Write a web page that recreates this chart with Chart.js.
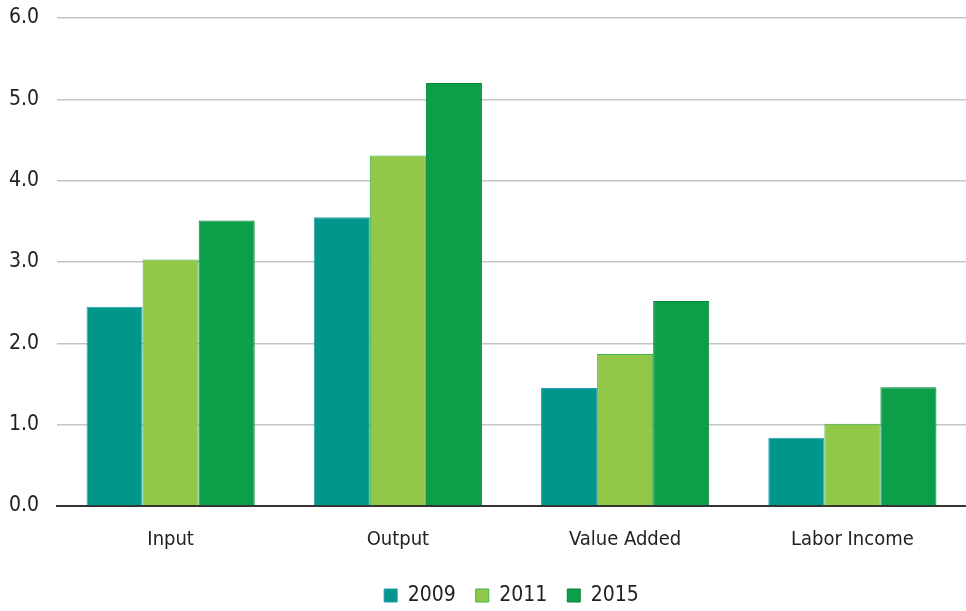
<!DOCTYPE html>
<html>
<head>
<meta charset="utf-8">
<script src="https://cdn.jsdelivr.net/npm/chart.js@4/dist/chart.umd.min.js"></script>
<style>
  html, body { margin: 0; padding: 0; background: #fff; }
  #wrap { width: 966px; height: 611px; position: relative; }
</style>
</head>
<body>
<div id="wrap"><canvas id="chart"></canvas></div>
<script>
// categories and values
const categories = ['Input', 'Output', 'Value Added', 'Labor Income'];
const values2009 = [2.45, 3.55, 1.45, 0.84];
const values2011 = [3.03, 4.31, 1.87, 1.01];
const values2015 = [3.51, 5.20, 2.52, 1.46];

const fontFamily = "'DejaVu Sans Condensed', sans-serif";

function series(label, data, fill, border) {
    return {
        label: label,
        data: data,
        backgroundColor: fill,
        borderColor: border,
        borderWidth: 1,
        borderSkipped: 'bottom'
    };
}

const ctx = document.getElementById('chart').getContext('2d');
new Chart(ctx, {
    type: 'bar',
    data: {
        labels: categories,
        datasets: [
            series('2009', values2009, '#00968A', '#2A9AB0'),
            series('2011', values2011, '#92C848', '#3DB54A'),
            series('2015', values2015, '#0C9E48', '#07843A')
        ]
    },
    options: {
        responsive: true,
        maintainAspectRatio: false,
        animation: false,
        layout: { padding: { top: 18, right: 0, left: 0, bottom: -5 } },
        datasets: { bar: { categoryPercentage: 0.74, barPercentage: 1.0 } },
        plugins: {
            tooltip: { enabled: false },
            legend: {
                position: 'bottom',
                fullSize: false,
                labels: {
                    boxWidth: 13,
                    boxHeight: 13,
                    padding: 20,
                    color: '#222',
                    font: { family: fontFamily, size: 21 }
                }
            }
        },
        scales: {
            x: {
                grid: { display: false, drawTicks: false },
                border: { color: '#333', width: 2 },
                ticks: {
                    color: '#222',
                    padding: 22,
                    font: { family: fontFamily, size: 20 }
                },
                afterFit(scale) { scale.height = 59; }
            },
            y: {
                min: 0,
                max: 6,
                grid: { color: '#C4C4C4', lineWidth: 1.5, drawTicks: false },
                border: { display: false },
                ticks: {
                    stepSize: 1,
                    color: '#222',
                    padding: 18,
                    font: { family: fontFamily, size: 21 },
                    callback: v => v.toFixed(1)
                },
                afterFit(scale) {
                    scale.width = 57;
                    scale.paddingTop = 0;
                    scale.paddingBottom = 0;
                }
            }
        }
    }
});
</script>
</body>
</html>
